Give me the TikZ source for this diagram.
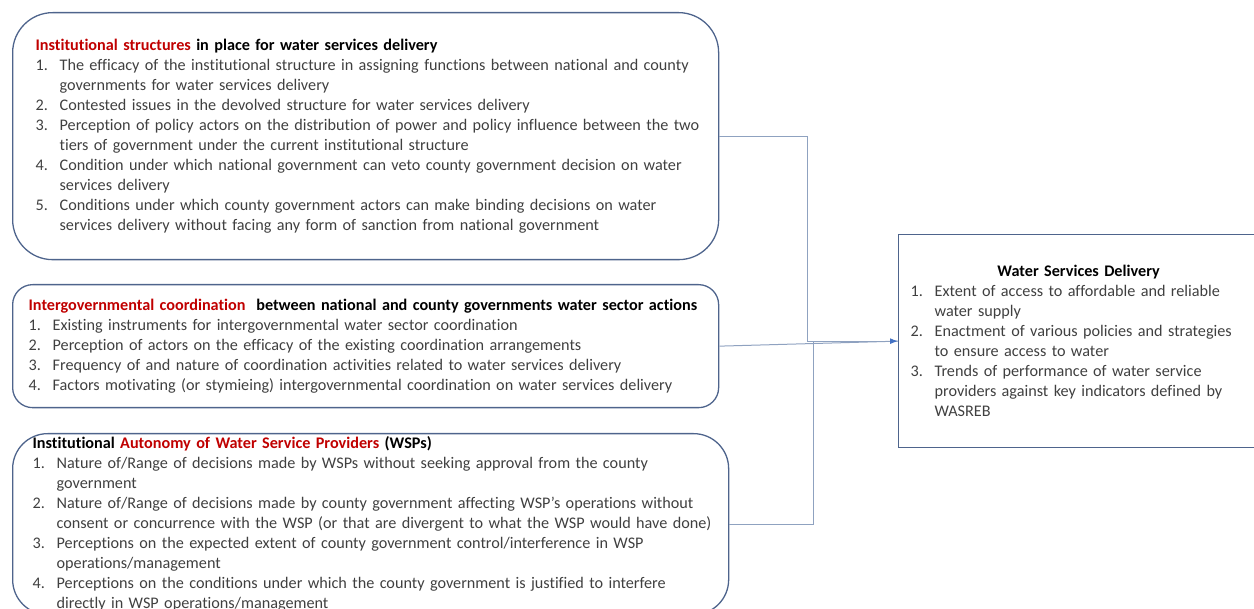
\documentclass[tikz,border=0pt]{standalone}
\usepackage{fontspec}
\setmainfont{Carlito}[Ligatures=NoCommon]
\usepackage{xcolor}
\usepackage{tikz}
\usetikzlibrary{arrows.meta}
\definecolor{boxblue}{RGB}{78,100,140}
\definecolor{linkgrey}{RGB}{143,162,192}
\definecolor{arrowblue}{RGB}{68,114,196}
\definecolor{keyred}{RGB}{192,0,0}
\definecolor{bodygrey}{RGB}{64,64,64}
\newlength{\numindent}
\setlength{\numindent}{24pt}
\newcommand{\keyword}[1]{\textcolor{keyred}{#1}}
\newcommand{\numitem}[2]{\par\noindent\makebox[\numindent][l]{#1}\mbox{#2}}
\newcommand{\moreline}[1]{\par\noindent\hspace*{\numindent}\mbox{#1}}

\begin{document}
\begin{tikzpicture}[x=1pt,y=-1pt,
    panel/.style={draw=boxblue,line width=1.3pt,text=bodygrey,align=left,
      font=\fontsize{16.2}{20}\selectfont,inner xsep=0pt,inner ysep=0pt,
      anchor=north west},
    link/.style={draw=linkgrey,line width=1pt},
    >={Latex[length=8pt,width=6pt,color=arrowblue]}]
    \useasboundingbox (0,0) rectangle (1254,609);
    \clip (0,0) rectangle (1254,609);

    % Institutional structures
    \node[panel,rounded corners=40pt,minimum width=706pt,minimum height=247pt,
      text width=660pt] (structbox) at (12,12) {%
      \noindent\textbf{\keyword{Institutional structures} {\color{black}in place for water services delivery}}
      \numitem{1.}{The efficacy of the institutional structure in assigning functions between national and county}
      \moreline{governments for water services delivery}
      \numitem{2.}{Contested issues in the devolved structure for water services delivery}
      \numitem{3.}{Perception of policy actors on the distribution of power and policy influence between the two}
      \moreline{tiers of government under the current institutional structure}
      \numitem{4.}{Condition under which national government can veto county government decision on water}
      \moreline{services delivery}
      \numitem{5.}{Conditions under which county government actors can make binding decisions on water}
      \moreline{services delivery without facing any form of sanction from national government}};

    % Intergovernmental coordination
    \node[panel,rounded corners=20pt,minimum width=706pt,minimum height=123pt,
      text width=674pt] (coordbox) at (12,284) {%
      \noindent\textbf{\keyword{Intergovernmental coordination}\ \ {\color{black}between national and county governments water sector actions}}
      \numitem{1.}{Existing instruments for intergovernmental water sector coordination}
      \numitem{2.}{Perception of actors on the efficacy of the existing coordination arrangements}
      \numitem{3.}{Frequency of and nature of coordination activities related to water services delivery}
      \numitem{4.}{Factors motivating (or stymieing) intergovernmental coordination on water services delivery}};

    % Autonomy of WSPs
    \node[panel,rounded corners=35pt,minimum width=716pt,minimum height=181pt,
      text width=676pt] (autobox) at (12,433) {%
      \noindent\textbf{{\color{black}Institutional} \keyword{Autonomy of Water Service Providers} {\color{black}(WSPs)}}
      \numitem{1.}{Nature of/Range of decisions made by WSPs without seeking approval from the county}
      \moreline{government}
      \numitem{2.}{Nature of/Range of decisions made by county government affecting WSP’s operations without}
      \moreline{consent or concurrence with the WSP (or that are divergent to what the WSP would have done)}
      \numitem{3.}{Perceptions on the expected extent of county government control/interference in WSP}
      \moreline{operations/management}
      \numitem{4.}{Perceptions on the conditions under which the county government is justified to interfere}
      \moreline{directly in WSP operations/management}};

    % Outcome
    \node[panel,minimum width=360pt,minimum height=213pt,
      text width=336pt] (deliverybox) at (898,234) {%
      \noindent\makebox[\hsize][c]{\textbf{\color{black}Water Services Delivery}}
      \numitem{1.}{Extent of access to affordable and reliable}
      \moreline{water supply}
      \numitem{2.}{Enactment of various policies and strategies}
      \moreline{to ensure access to water}
      \numitem{3.}{Trends of performance of water service}
      \moreline{providers against key indicators defined by}
      \moreline{WASREB}};

    % Links
    \coordinate (bend1) at (807,0);
    \coordinate (bend3) at (813,0);
    \draw[link] (autobox.east) -| (bend3 |- deliverybox.west);
    \draw[link] (coordbox.east) -- (deliverybox.west);
    \draw[link,->] (structbox.east) -| (bend1 |- deliverybox.west) -- (deliverybox.west);
\end{tikzpicture}
\end{document}
